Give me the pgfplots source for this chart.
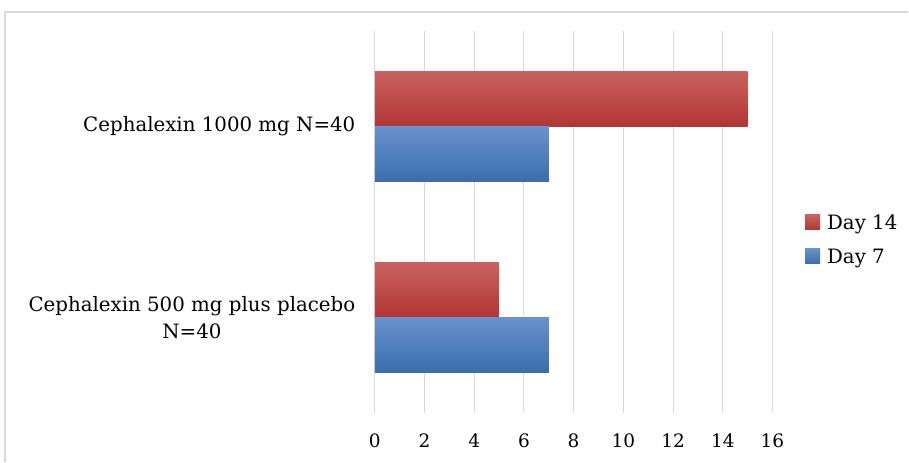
\documentclass[border=0pt]{standalone}
\usepackage{pgfplots}
\pgfplotsset{compat=1.18}
\usepackage{fontspec}
\setmainfont{DejaVu Serif}
\definecolor{redT}{HTML}{C9625F}
\definecolor{redB}{HTML}{B23533}
\definecolor{blueT}{HTML}{6892CD}
\definecolor{blueB}{HTML}{3A6DAE}
\definecolor{gridc}{HTML}{D9D9D9}
\definecolor{zeroc}{HTML}{BFBFBF}
\begin{document}
\begin{tikzpicture}
\path (0pt,0pt) rectangle (909pt,-462pt);
\draw[gridc, line width=1.2pt] (5pt,-462pt) -- (5pt,-12pt) -- (909pt,-12pt);
\begin{axis}[
  at={(375pt,-413pt)}, anchor=south west,
  scale only axis, width=398pt, height=382pt,
  xbar, xmin=0, xmax=16, ymin=-0.5, ymax=1.5,
  bar width=0.288,
  xtick={0,2,...,16}, ytick={0,1},
  yticklabels={{Cephalexin 500 mg plus placebo\\N=40},{Cephalexin 1000 mg N=40}},
  font=\fontsize{19.8}{27}\selectfont,
  /pgf/number format/assume math mode=true,
  axis line style={draw=none},
  tick style={draw=none},
  xmajorgrids, major grid style={gridc, line width=1pt},
  extra x ticks={0}, extra x tick labels={},
  extra x tick style={grid style={zeroc, line width=1.5pt}},
  yticklabel style={align=center, inner sep=0pt, xshift=-15pt},
  xticklabel style={inner sep=0pt, yshift=-21pt, font=\fontsize{18.5}{22}\selectfont},
  legend style={at={(1.074,0.453)}, anchor=west, draw=none, fill=none,
    row sep=14pt, column sep=5pt, font=\fontsize{19.8}{22}\selectfont},
  legend cell align=left,
  legend image code/.code={\fill[#1] (0pt,-7pt) rectangle (15pt,8pt);},
]
\addplot[draw=none, top color=redT, bottom color=redB, bar shift=0.144]
  coordinates {(15,1)};
\addlegendentry{Day 14}
\addplot[draw=none, top color=blueT, bottom color=blueB, bar shift=-0.144]
  coordinates {(7,1)};
\addlegendentry{Day 7}
\addplot[forget plot, draw=none, top color=redT, bottom color=redB, bar shift=0.144]
  coordinates {(5,0)};
\addplot[forget plot, draw=none, top color=blueT, bottom color=blueB, bar shift=-0.144]
  coordinates {(7,0)};
\end{axis}
\end{tikzpicture}
\end{document}
